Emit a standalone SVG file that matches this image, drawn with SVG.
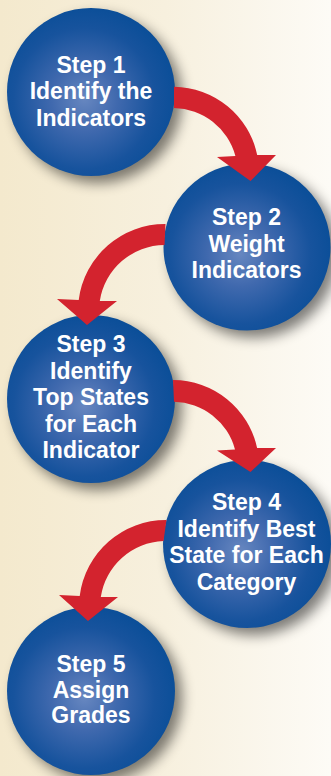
<svg xmlns="http://www.w3.org/2000/svg" width="331" height="776" viewBox="0 0 331 776">
<defs>
<linearGradient id="bg" x1="0" y1="0" x2="1" y2="0">
<stop offset="0" stop-color="#f4e9cd"/>
<stop offset="0.5" stop-color="#f7f0de"/>
<stop offset="1" stop-color="#fdfbf6"/>
</linearGradient>
<radialGradient id="ball" cx="0.46" cy="0.54" r="0.56">
<stop offset="0" stop-color="#6787c0"/>
<stop offset="0.35" stop-color="#4069ae"/>
<stop offset="0.75" stop-color="#17539d"/>
<stop offset="1" stop-color="#0a4e98"/>
</radialGradient>
<filter id="shadow" x="-30%" y="-30%" width="160%" height="160%">
<feGaussianBlur stdDeviation="6.5"/>
</filter>
<style>
.sh{fill:#000;opacity:0.5;filter:url(#shadow)}
.ball{fill:url(#ball)}
.lbl{fill:#fff;font-family:"Liberation Sans",Arial,sans-serif;font-weight:bold;font-size:23px;text-anchor:middle}
.arrow{fill:#d3232e}
</style>
</defs>
<rect x="0" y="0" width="331" height="776" fill="url(#bg)"/>
<g id="step1">
<circle class="sh" cx="98" cy="99" r="84"/>
<circle class="ball" cx="91" cy="92" r="84"/>
<text class="lbl" x="91"><tspan x="91" y="72.5">Step 1</tspan><tspan x="91" y="99">Identify the</tspan><tspan x="91" y="125.5">Indicators</tspan></text>
</g>
<g id="step2">
<circle class="sh" cx="254" cy="254" r="83.5"/>
<circle class="ball" cx="247" cy="247" r="83.5"/>
<text class="lbl"><tspan x="246.5" y="225">Step 2</tspan><tspan x="246.5" y="251.5">Weight</tspan><tspan x="246.5" y="278">Indicators</tspan></text>
</g>
<g id="step3">
<circle class="sh" cx="98" cy="406" r="84"/>
<circle class="ball" cx="91" cy="399" r="84"/>
<text class="lbl"><tspan x="91" y="352">Step 3</tspan><tspan x="91" y="378.5">Identify</tspan><tspan x="91" y="405">Top States</tspan><tspan x="91" y="431.5">for Each</tspan><tspan x="91" y="458">Indicator</tspan></text>
</g>
<g id="step4">
<circle class="sh" cx="254" cy="551" r="84"/>
<circle class="ball" cx="247" cy="544" r="84"/>
<text class="lbl"><tspan x="246.5" y="510">Step 4</tspan><tspan x="246.5" y="536.5">Identify Best</tspan><tspan x="246.5" y="563">State for Each</tspan><tspan x="246.5" y="589.5">Category</tspan></text>
</g>
<g id="step5">
<circle class="sh" cx="98" cy="698" r="84"/>
<circle class="ball" cx="91" cy="691" r="84"/>
<text class="lbl"><tspan x="91" y="672">Step 5</tspan><tspan x="91" y="697.5">Assign</tspan><tspan x="91" y="723">Grades</tspan></text>
</g>
<g id="connectors">
<path class="arrow" d="M174,86.7 A86,86 0 0 1 257.2,155 L276,155 L250.5,181 L217,157 L235.4,156 A64.7,64.7 0 0 0 174,108 Z"/>
<path class="arrow" d="M165.5,224 A87,87 0 0 0 78.7,300 L57,299 L87,325 L117,301 L99.8,301 A66,66 0 0 1 164.5,245 Z"/>
<path class="arrow" d="M173,380 A86,86 0 0 1 257.1,448 L276,448 L250.5,472 L217,450.5 L235,449.5 A64.3,64.3 0 0 0 174,401.7 Z"/>
<path class="arrow" d="M166.5,520 A87,87 0 0 0 79.7,596 L59,595 L88,621 L118,597 L100.8,597 A66,66 0 0 1 163.5,541 Z"/>
</g>
</svg>
